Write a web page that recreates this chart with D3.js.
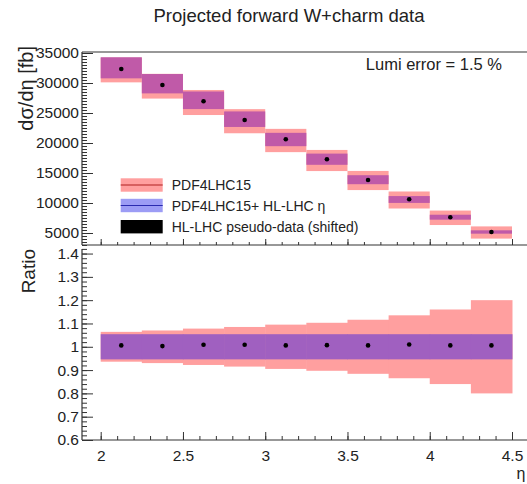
<!DOCTYPE html>
<html>
<head>
<meta charset="utf-8">
<script src="https://cdn.jsdelivr.net/npm/d3@7"></script>
<style>
  body { margin: 0; background: #fff; }
  svg { display: block; font-family: "Liberation Sans", Arial, Helvetica, sans-serif; }
</style>
</head>
<body>
<div id="chart"></div>
<script>
// bins in eta
const etaLo = [2.0, 2.25, 2.5, 2.75, 3.0, 3.25, 3.5, 3.75, 4.0, 4.25];
const etaHi = [2.25, 2.5, 2.75, 3.0, 3.25, 3.5, 3.75, 4.0, 4.25, 4.5];
const etaMid = [2.125, 2.375, 2.625, 2.875, 3.125, 3.375, 3.625, 3.875, 4.125, 4.375];

// cross sections [fb]
const xsecPdf = [32167, 29467, 26750, 23633, 20417, 17083, 13750, 10500, 7533, 5083];
const xsecFit = [32533, 29883, 27117, 23967, 20583, 17300, 13883, 10583, 7633, 5167];
const xsecData = [32333, 29667, 26950, 23833, 20617, 17283, 13833, 10617, 7617, 5167];

// relative uncertainties
const errPdf = [0.064, 0.070, 0.078, 0.085, 0.095, 0.103, 0.116, 0.135, 0.160, 0.200];
const errFit = [0.054, 0.054, 0.054, 0.054, 0.054, 0.054, 0.054, 0.054, 0.054, 0.054];

// ratio panel points
const ratioData = [1.006, 1.003, 1.009, 1.009, 1.006, 1.007, 1.006, 1.010, 1.006, 1.006];

// tick labels
const xTicks = [2, 2.5, 3, 3.5, 4, 4.5];
const yTicksTop = [5000, 10000, 15000, 20000, 25000, 30000, 35000];
const yTicksRatio = [0.6, 0.7, 0.8, 0.9, 1, 1.1, 1.2, 1.3, 1.4];

const legendLabels = ["PDF4LHC15", "PDF4LHC15+ HL-LHC \u03b7", "HL-LHC pseudo-data (shifted)"];

const W = 527, H = 484;
const pink = "#ff9f9f", purpleTop = "#c05aa8", purpleRatio = "#a060c0";
const axisCol = "#333";

const svg = d3.select("#chart").append("svg")
  .attr("width", W)
  .attr("height", H);

const x = d3.scaleLinear().domain([2, 4.5]).range([100.7, 512]);
const xLeft = 82;
const yTop = d3.scaleLinear().domain([3000, 35167]).range([245, 52]);
const yRat = d3.scaleLinear().domain([0.6, 1.42]).range([440, 248.9]);

const idx = d3.range(etaLo.length);

// ---- top panel ----
const topPanel = svg.append("g");

topPanel.selectAll("rect.pdf")
  .data(idx)
  .enter().append("rect")
  .attr("x", i => x(etaLo[i]))
  .attr("width", i => x(etaHi[i]) - x(etaLo[i]))
  .attr("y", i => yTop(xsecPdf[i] * (1 + errPdf[i])))
  .attr("height", i => yTop(xsecPdf[i] * (1 - errPdf[i])) - yTop(xsecPdf[i] * (1 + errPdf[i])))
  .attr("fill", pink);

topPanel.selectAll("rect.fit")
  .data(idx)
  .enter().append("rect")
  .attr("x", i => x(etaLo[i]))
  .attr("width", i => x(etaHi[i]) - x(etaLo[i]))
  .attr("y", i => yTop(xsecFit[i] * (1 + errFit[i])))
  .attr("height", i => yTop(xsecFit[i] * (1 - errFit[i])) - yTop(xsecFit[i] * (1 + errFit[i])))
  .attr("fill", purpleTop);

topPanel.selectAll("circle")
  .data(idx)
  .enter().append("circle")
  .attr("cx", i => x(etaMid[i]))
  .attr("cy", i => yTop(xsecData[i]))
  .attr("r", 2.3)
  .attr("fill", "#000");

// ---- ratio panel ----
const ratioPanel = svg.append("g");

ratioPanel.selectAll("rect.pdf")
  .data(idx)
  .enter().append("rect")
  .attr("x", i => x(etaLo[i]))
  .attr("width", i => x(etaHi[i]) - x(etaLo[i]) + 0.5)
  .attr("y", i => yRat(1 + errPdf[i]))
  .attr("height", i => yRat(1 - errPdf[i]) - yRat(1 + errPdf[i]))
  .attr("fill", pink);

ratioPanel.selectAll("rect.fit")
  .data(idx)
  .enter().append("rect")
  .attr("x", i => x(etaLo[i]))
  .attr("width", i => x(etaHi[i]) - x(etaLo[i]) + 0.5)
  .attr("y", i => yRat(1 + errFit[i]))
  .attr("height", i => yRat(1 - errFit[i]) - yRat(1 + errFit[i]))
  .attr("fill", purpleRatio);

ratioPanel.selectAll("circle")
  .data(idx)
  .enter().append("circle")
  .attr("cx", i => x(etaMid[i]))
  .attr("cy", i => yRat(ratioData[i]))
  .attr("r", 2.3)
  .attr("fill", "#000");

// ---- axes ----
function styleAxis(g) {
  g.select(".domain").remove();
  g.selectAll("line").attr("stroke", axisCol);
  g.selectAll("text").attr("fill", "#222").style("font-size", "15.5px");
}

// top panel y axis
svg.append("g").attr("transform", `translate(${xLeft},0)`)
  .call(d3.axisLeft(yTop).tickValues(d3.range(3000, 35001, 500)).tickFormat("").tickSizeInner(-5).tickSizeOuter(0))
  .call(styleAxis);
svg.append("g").attr("transform", `translate(${xLeft},0)`)
  .call(d3.axisLeft(yTop).tickValues(yTicksTop).tickFormat(d3.format("d")).tickSizeInner(-11).tickSizeOuter(0).tickPadding(3))
  .call(styleAxis);

// top panel x axis (no labels, ticks up)
svg.append("g").attr("transform", "translate(0,245)")
  .call(d3.axisBottom(x).tickValues(d3.range(2, 4.61, 0.1)).tickFormat("").tickSizeInner(-3).tickSizeOuter(0))
  .call(styleAxis);
svg.append("g").attr("transform", "translate(0,245)")
  .call(d3.axisBottom(x).tickValues(xTicks).tickFormat("").tickSizeInner(-6).tickSizeOuter(0))
  .call(styleAxis);

// ratio y axis
svg.append("g").attr("transform", `translate(${xLeft},0)`)
  .call(d3.axisLeft(yRat).tickValues(d3.range(0.6, 1.421, 0.02)).tickFormat("").tickSizeInner(-5).tickSizeOuter(0))
  .call(styleAxis);
svg.append("g").attr("transform", `translate(${xLeft},0)`)
  .call(d3.axisLeft(yRat).tickValues(yTicksRatio).tickFormat(d => d3.format("")(+d.toFixed(1))).tickSizeInner(-11).tickSizeOuter(0).tickPadding(3))
  .call(styleAxis);

// ratio x axis
svg.append("g").attr("transform", `translate(0,${yRat(0.6)})`)
  .call(d3.axisBottom(x).tickValues(d3.range(2, 4.61, 0.1)).tickFormat("").tickSizeInner(-4).tickSizeOuter(0))
  .call(styleAxis);
svg.append("g").attr("transform", `translate(0,${yRat(0.6)})`)
  .call(d3.axisBottom(x).tickValues(xTicks).tickFormat(d => d).tickSizeInner(-8).tickSizeOuter(0).tickPadding(10))
  .call(styleAxis);

// frame lines
const frame = [
  [[xLeft, yTop.range()[1]], [W, yTop.range()[1]]],
  [[xLeft, yTop.range()[1]], [xLeft, yTop.range()[0]]],
  [[xLeft, yTop.range()[0]], [W, yTop.range()[0]]],
  [[xLeft, yRat.range()[1]], [xLeft, yRat.range()[0]]],
  [[xLeft, yRat.range()[0]], [W, yRat.range()[0]]]
];
svg.selectAll("path.frame")
  .data(frame)
  .enter().append("path")
  .attr("d", d3.line())
  .attr("stroke", axisCol)
  .attr("stroke-width", 1.2)
  .attr("fill", "none");

// ---- texts ----
svg.append("text")
  .attr("x", 289).attr("y", 22)
  .attr("text-anchor", "middle")
  .style("font-size", "18.5px")
  .attr("fill", "#222")
  .text("Projected forward W+charm data");

svg.append("text")
  .attr("x", 502).attr("y", 70)
  .attr("text-anchor", "end")
  .style("font-size", "16.5px")
  .attr("fill", "#222")
  .text("Lumi error = 1.5 %");

svg.append("text")
  .attr("transform", "translate(33,46) rotate(-90)")
  .attr("text-anchor", "end")
  .style("font-size", "20px")
  .attr("fill", "#222")
  .text("d\u03c3/d\u03b7 [fb]");

svg.append("text")
  .attr("transform", "translate(35,249) rotate(-90)")
  .attr("text-anchor", "end")
  .style("font-size", "19px")
  .attr("fill", "#222")
  .text("Ratio");

svg.append("text")
  .attr("x", 521).attr("y", 479)
  .attr("text-anchor", "middle")
  .style("font-size", "16px")
  .attr("fill", "#222")
  .text("\u03b7");

// ---- legend ----
const legY = [185, 205.5, 226.7];
const leg = svg.append("g");
const swatchFill = [pink, "#9c9cf5", "#000"];
const swatchLine = ["#b02020", "#2a2ab0", null];

leg.selectAll("rect")
  .data(legendLabels)
  .enter().append("rect")
  .attr("x", 120.7)
  .attr("y", (d, i) => legY[i] - 6.7)
  .attr("width", 42)
  .attr("height", 13.4)
  .attr("fill", (d, i) => swatchFill[i]);

leg.selectAll("line")
  .data(legendLabels.filter((d, i) => swatchLine[i]))
  .enter().append("line")
  .attr("x1", 120.7).attr("x2", 162.7)
  .attr("y1", (d, i) => legY[i]).attr("y2", (d, i) => legY[i])
  .attr("stroke", (d, i) => swatchLine[i])
  .attr("stroke-width", 1.2);

leg.selectAll("text")
  .data(legendLabels)
  .enter().append("text")
  .attr("x", 171.7)
  .attr("y", (d, i) => legY[i] + 5)
  .style("font-size", "14px")
  .attr("fill", "#222")
  .text(d => d);
</script>
</body>
</html>
